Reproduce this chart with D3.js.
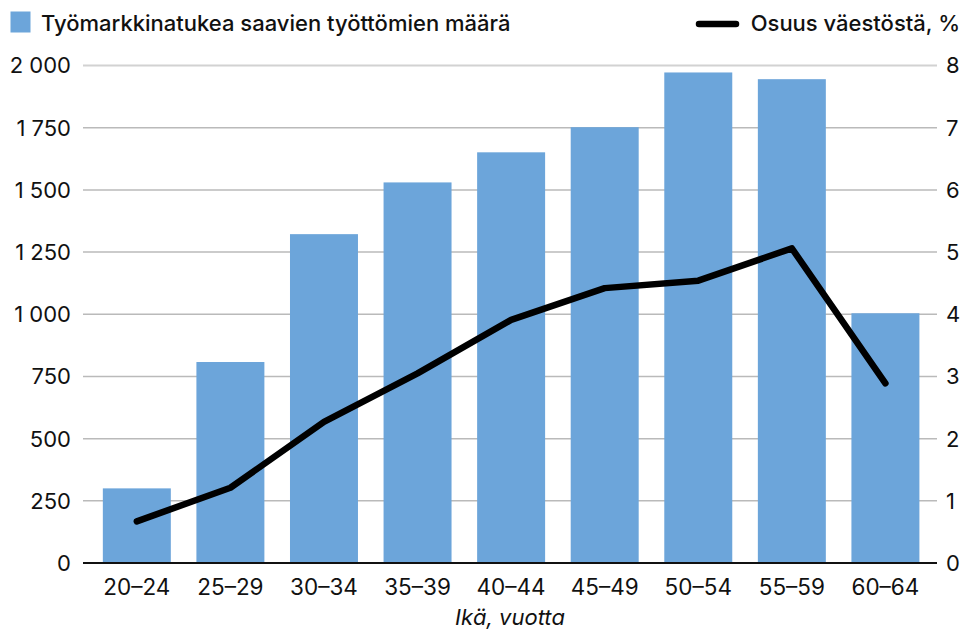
<!DOCTYPE html>
<html>
<head>
<meta charset="utf-8">
<script src="https://cdn.jsdelivr.net/npm/d3@7"></script>
<style>
  body { margin: 0; background: #fff; }
  svg { display: block; font-family: Inter, "Noto Sans", sans-serif; }
</style>
</head>
<body>
<svg id="chart" width="968" height="631"></svg>
<script>
const ageGroups = ["20–24", "25–29", "30–34", "35–39", "40–44", "45–49", "50–54", "55–59", "60–64"]
const recipients = [300, 808, 1322, 1530, 1651, 1752, 1972, 1945, 1004]
const sharePct = [0.67, 1.21, 2.27, 3.05, 3.91, 4.42, 4.54, 5.06, 2.89]
const leftTicks = [0, 250, 500, 750, 1000, 1250, 1500, 1750, 2000]
const rightTicks = [0, 1, 2, 3, 4, 5, 6, 7, 8]

const barLabel = "Työmarkkinatukea saavien työttömien määrä"
const lineLabel = "Osuus väestöstä, %"
const xTitle = "Ikä, vuotta"

const svg = d3.select("#chart")
const m = { left: 83, right: 937, top: 65.5, bottom: 563 }

const x = d3.scaleBand()
  .domain(ageGroups)
  .range([m.left, m.right])
  .paddingInner(0.2735)
  .paddingOuter(0.2)
  .align(0.53)

const yLeft = d3.scaleLinear().domain([0, 2000]).range([m.bottom, m.top])
const yRight = d3.scaleLinear().domain([0, 8]).range([m.bottom, m.top])

// finnish thousands separator is a space
const fmt = (v) => d3.format(",")(v).replace(/,/g, "\u00a0")

// gridlines
svg.append("g")
  .selectAll("line")
  .data(leftTicks.filter((t) => t > 0))
  .join("line")
  .attr("x1", m.left)
  .attr("x2", m.right)
  .attr("y1", (d) => yLeft(d))
  .attr("y2", (d) => yLeft(d))
  .attr("stroke", (d) => (d === 2000 ? "#d2d2d2" : "#bababa"))
  .attr("stroke-width", (d) => (d === 2000 ? 2 : 1.5))

// bars
svg.append("g")
  .selectAll("rect")
  .data(recipients)
  .join("rect")
  .attr("x", (d, i) => x(ageGroups[i]))
  .attr("width", x.bandwidth())
  .attr("y", (d) => yLeft(d))
  .attr("height", (d) => yLeft(0) - yLeft(d))
  .attr("fill", "#6ca5da")

// baseline
svg.append("line")
  .attr("x1", m.left)
  .attr("x2", m.right)
  .attr("y1", m.bottom)
  .attr("y2", m.bottom)
  .attr("stroke", "#111")
  .attr("stroke-width", 2)

// share line
const line = d3.line()
  .x((d, i) => x(ageGroups[i]) + x.bandwidth() / 2)
  .y((d) => yRight(d))

svg.append("path")
  .datum(sharePct)
  .attr("d", line)
  .attr("fill", "none")
  .attr("stroke", "#000")
  .attr("stroke-width", 6.5)
  .attr("stroke-linecap", "round")
  .attr("stroke-linejoin", "round")

// left axis labels
svg.append("g")
  .selectAll("text")
  .data(leftTicks)
  .join("text")
  .attr("x", 71)
  .attr("y", (d) => yLeft(d))
  .attr("dy", "0.36em")
  .attr("text-anchor", "end")
  .attr("font-size", 22)
  .attr("fill", "#111")
  .text((d) => fmt(d))

// right axis labels
svg.append("g")
  .selectAll("text")
  .data(rightTicks)
  .join("text")
  .attr("x", 946)
  .attr("y", (d) => yRight(d))
  .attr("dy", "0.36em")
  .attr("font-size", 22)
  .attr("fill", "#111")
  .text((d) => d)

// x axis labels
svg.append("g")
  .selectAll("text")
  .data(ageGroups)
  .join("text")
  .attr("x", (d) => x(d) + x.bandwidth() / 2)
  .attr("y", 595)
  .attr("text-anchor", "middle")
  .attr("font-size", 22.5)
  .attr("fill", "#111")
  .text((d) => d)

svg.append("text")
  .attr("x", (m.left + m.right) / 2)
  .attr("y", 625)
  .attr("text-anchor", "middle")
  .attr("font-size", 22)
  .attr("font-style", "italic")
  .attr("fill", "#111")
  .text(xTitle)

// legend
const legend = svg.append("g")
legend.append("rect")
  .attr("x", 10.5)
  .attr("y", 11.5)
  .attr("width", 20)
  .attr("height", 21)
  .attr("fill", "#6ca5da")
legend.append("text")
  .attr("x", 41)
  .attr("y", 31)
  .attr("font-size", 22)
  .attr("font-weight", 500)
  .attr("fill", "#111")
  .text(barLabel)

legend.append("line")
  .attr("x1", 699)
  .attr("x2", 736)
  .attr("y1", 24)
  .attr("y2", 24)
  .attr("stroke", "#000")
  .attr("stroke-width", 6.5)
  .attr("stroke-linecap", "round")
legend.append("text")
  .attr("x", 960)
  .attr("y", 31)
  .attr("text-anchor", "end")
  .attr("font-size", 22)
  .attr("font-weight", 500)
  .attr("fill", "#111")
  .text(lineLabel)
</script>
</body>
</html>
